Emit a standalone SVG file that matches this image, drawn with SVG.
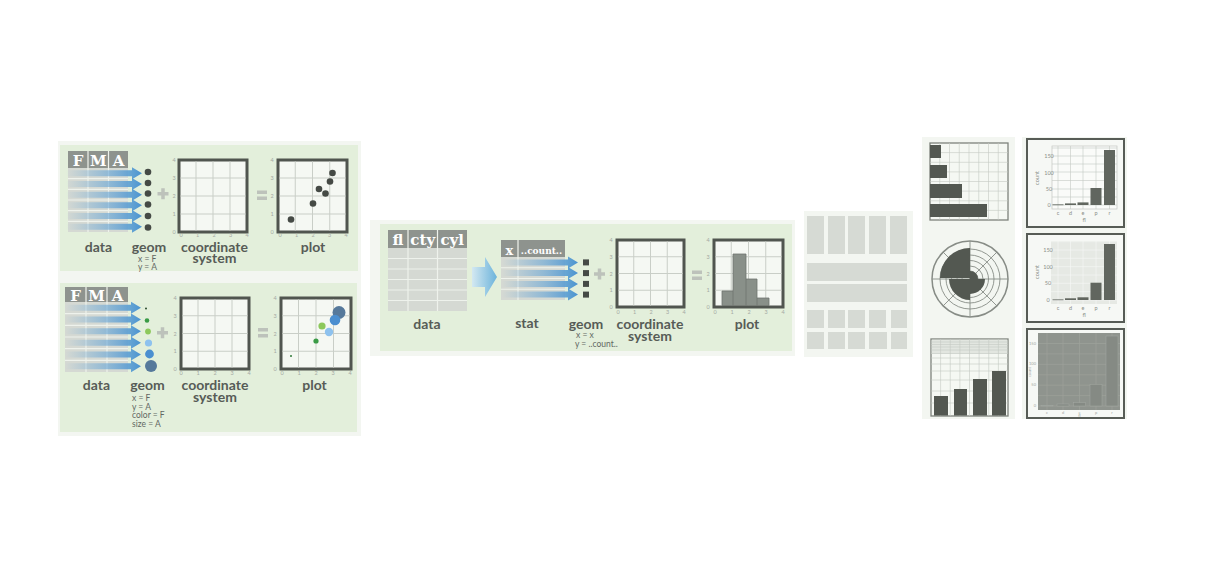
<svg xmlns="http://www.w3.org/2000/svg" width="1211" height="563" viewBox="0 0 1211 563">
<defs>
<style>
.pale{fill:#f3f6f1}
.pnl{fill:#e3efdb}
.hdr{fill:#8e938e}
.row{fill:#d5d9d3}
.sep{stroke:#eef2ec;stroke-width:1.2}
.box{fill:#f5f8f3;stroke:#50554f;stroke-width:3}
.grid{stroke:#c9cec7;stroke-width:1}
.tk{font-family:Lato,sans-serif;font-size:5.5px;fill:#a4a9a3;text-anchor:middle}
.lbl{font-family:Lato,sans-serif;font-weight:700;font-size:14px;fill:#575c57;text-anchor:middle}
.sm{font-family:Lato,sans-serif;font-size:8.5px;fill:#626762}
.hd{font-family:"DejaVu Serif",serif;font-weight:bold;font-size:15px;fill:#fff;text-anchor:middle}
.op{fill:#bdc2bb}
.dot{fill:#454a45}
.fac{fill:#d6dad4}
.mini{fill:#f5f8f3;stroke:#7d827c;stroke-width:1.3}
.mg{stroke:#c5c9c3;stroke-width:0.6}
.dk{fill:#535851}
.tt{font-family:Lato,sans-serif;font-size:5.5px;fill:#8a8f89;text-anchor:middle}
.th{fill:#f6f8f5;stroke:#575c56;stroke-width:2}
.bar{fill:#61665f}
</style>
<linearGradient id="ag" x1="0" y1="0" x2="1" y2="0">
<stop offset="0" stop-color="#5a9fd6" stop-opacity="0"/>
<stop offset="0.55" stop-color="#5a9fd6" stop-opacity="0.55"/>
<stop offset="1" stop-color="#4a93d0"/>
</linearGradient>
<linearGradient id="bg2" x1="0" y1="0" x2="1" y2="0">
<stop offset="0" stop-color="#d3e8f1"/>
<stop offset="1" stop-color="#6cb3db"/>
</linearGradient>
<path id="ra" d="M-76,-3 H-10 V-6 L0,0 L-10,6 V3 H-76 Z" fill="url(#ag)"/>
</defs>

<rect class="pale" x="58" y="141" width="303" height="295"/>
<rect class="pale" x="370" y="220" width="425" height="136"/>

<!-- Panel 1 -->
<g id="panel-scatter">
<rect class="pnl" x="60" y="145" width="298" height="126"/>
<g id="p1-data">
<rect class="hdr" x="68" y="151" width="60" height="17"/>
<rect class="row" x="68" y="168" width="60" height="64"/>
<path class="sep" d="M68,178.7H128M68,189.3H128M68,200H128M68,210.7H128M68,221.3H128M88,151V232M108.5,151V232"/>
<text class="hd" x="78" y="166">F</text>
<text class="hd" x="98.3" y="166">M</text>
<text class="hd" x="118.5" y="166">A</text>
</g>
<g id="p1-geom">
<circle class="dot" cx="148" cy="172" r="3.3"/>
<circle class="dot" cx="148" cy="183" r="3.3"/>
<circle class="dot" cx="148" cy="193.5" r="3.3"/>
<circle class="dot" cx="148" cy="204.5" r="3.3"/>
<circle class="dot" cx="148" cy="216" r="3.3"/>
<circle class="dot" cx="148" cy="227.5" r="3.3"/>
</g>
<rect class="op" x="157.5" y="192" width="11" height="3.5"/>
<rect class="op" x="161.25" y="188.25" width="3.5" height="11"/>
<g id="p1-coord">
<rect class="box" x="179" y="160" width="68" height="72"/>
<path class="grid" d="M196,161.5V230.5M213,161.5V230.5M230,161.5V230.5M180.5,178H245.5M180.5,196H245.5M180.5,214H245.5"/>
<text class="tk" x="174" y="162">4</text><text class="tk" x="174" y="180">3</text><text class="tk" x="174" y="198">2</text><text class="tk" x="174" y="216">1</text><text class="tk" x="174" y="234">0</text>
<text class="tk" x="181" y="236.5">0</text><text class="tk" x="197.5" y="236.5">1</text><text class="tk" x="214" y="236.5">2</text><text class="tk" x="230.5" y="236.5">3</text><text class="tk" x="247" y="236.5">4</text>
</g>
<rect class="op" x="257" y="190.5" width="10" height="3.5"/>
<rect class="op" x="257" y="196.5" width="10" height="3.5"/>
<g id="p1-plot">
<rect class="box" x="278" y="160" width="69" height="72"/>
<path class="grid" d="M295.25,161.5V230.5M312.5,161.5V230.5M329.75,161.5V230.5M279.5,178H345.5M279.5,196H345.5M279.5,214H345.5"/>
<text class="tk" x="272" y="162">4</text><text class="tk" x="272" y="180">3</text><text class="tk" x="272" y="198">2</text><text class="tk" x="272" y="216">1</text><text class="tk" x="272" y="234">0</text>
<text class="tk" x="280" y="236.5">0</text><text class="tk" x="296.5" y="236.5">1</text><text class="tk" x="313" y="236.5">2</text><text class="tk" x="329.5" y="236.5">3</text><text class="tk" x="346" y="236.5">4</text>
<circle class="dot" cx="291" cy="219.5" r="3.3"/>
<circle class="dot" cx="313" cy="203.5" r="3.3"/>
<circle class="dot" cx="319" cy="189" r="3.3"/>
<circle class="dot" cx="325.5" cy="193.5" r="3.3"/>
<circle class="dot" cx="330" cy="181.5" r="3.3"/>
<circle class="dot" cx="332.5" cy="173" r="3.3"/>
</g>
<text class="lbl" x="98.5" y="251.5">data</text>
<text class="lbl" x="149" y="251.5">geom</text>
<text class="lbl"><tspan x="214.5" y="251.5">coordinate</tspan><tspan x="214.5" y="263">system</tspan></text>
<text class="lbl" x="313" y="251.5">plot</text>
<text class="sm"><tspan x="138" y="261.5">x = F</tspan><tspan x="138" y="270">y = A</tspan></text>
</g>

<!-- Panel 2 -->
<g id="panel-aes">
<rect class="pnl" x="60" y="283" width="297" height="149"/>
<g id="p2-data">
<rect class="hdr" x="65" y="287" width="63" height="15"/>
<rect class="row" x="65" y="302" width="63" height="70"/>
<path class="sep" d="M65,313.7H128M65,325.3H128M65,337H128M65,348.7H128M65,360.3H128M86,287V372M107,287V372"/>
<text class="hd" x="75.5" y="300.5">F</text>
<text class="hd" x="96.5" y="300.5">M</text>
<text class="hd" x="117.5" y="300.5">A</text>
</g>
<g id="p2-geom">
<circle cx="146" cy="308.5" r="1" fill="#2b4a2e"/>
<circle cx="147" cy="320.5" r="2.3" fill="#3a9b46"/>
<circle cx="148" cy="331.5" r="2.9" fill="#8cc85b"/>
<circle cx="148.5" cy="343" r="3.6" fill="#8ec2ee"/>
<circle cx="149.5" cy="354" r="4.4" fill="#4b8fd0"/>
<circle cx="151" cy="366" r="6" fill="#56799b"/>
</g>
<rect class="op" x="157" y="331" width="11" height="3.5"/>
<rect class="op" x="160.75" y="327.25" width="3.5" height="11"/>
<g id="p2-coord">
<rect class="box" x="181" y="298" width="68" height="71"/>
<path class="grid" d="M198,299.5V367.5M215,299.5V367.5M232,299.5V367.5M182.5,315.75H247.5M182.5,333.5H247.5M182.5,351.25H247.5"/>
<text class="tk" x="175" y="300">4</text><text class="tk" x="175" y="317.75">3</text><text class="tk" x="175" y="335.5">2</text><text class="tk" x="175" y="353.25">1</text><text class="tk" x="175" y="371">0</text>
<text class="tk" x="181" y="374.5">0</text><text class="tk" x="198" y="374.5">1</text><text class="tk" x="215" y="374.5">2</text><text class="tk" x="232" y="374.5">3</text><text class="tk" x="249" y="374.5">4</text>
</g>
<rect class="op" x="258" y="328" width="10" height="3.5"/>
<rect class="op" x="258" y="334" width="10" height="3.5"/>
<g id="p2-plot">
<rect class="box" x="281" y="298" width="70" height="71"/>
<path class="grid" d="M298.5,299.5V367.5M316,299.5V367.5M333.5,299.5V367.5M282.5,315.75H349.5M282.5,333.5H349.5M282.5,351.25H349.5"/>
<text class="tk" x="275" y="300">4</text><text class="tk" x="275" y="317.75">3</text><text class="tk" x="275" y="335.5">2</text><text class="tk" x="275" y="353.25">1</text><text class="tk" x="275" y="371">0</text>
<text class="tk" x="282" y="374.5">0</text><text class="tk" x="299" y="374.5">1</text><text class="tk" x="316" y="374.5">2</text><text class="tk" x="333" y="374.5">3</text><text class="tk" x="350" y="374.5">4</text>
<circle cx="291" cy="356" r="1" fill="#2f7a38"/>
<circle cx="316" cy="341" r="2.6" fill="#3a9b46"/>
<circle cx="322" cy="326" r="3.6" fill="#8cc85b"/>
<circle cx="329" cy="332" r="4.2" fill="#8ec2ee"/>
<circle cx="339" cy="312.5" r="6.5" fill="#56799b"/>
<circle cx="335" cy="320" r="5.3" fill="#4b8fd0"/>
</g>
<text class="lbl" x="96.5" y="390">data</text>
<text class="lbl" x="147.5" y="390">geom</text>
<text class="lbl"><tspan x="215" y="390">coordinate</tspan><tspan x="215" y="402">system</tspan></text>
<text class="lbl" x="314.5" y="390">plot</text>
<text class="sm"><tspan x="132" y="400.5">x = F</tspan><tspan x="132" y="409.5">y = A</tspan><tspan x="132" y="418">color = F</tspan><tspan x="132" y="427">size = A</tspan></text>
</g>

<!-- Panel 3 -->
<g id="panel-stat">
<rect class="pnl" x="380" y="224" width="412" height="127"/>
<g id="p3-data">
<rect class="hdr" x="388" y="230" width="79" height="18"/>
<rect class="row" x="388" y="248" width="79" height="63"/>
<path class="sep" d="M388,258.5H467M388,269H467M388,279.5H467M388,290H467M388,300.5H467M408,230V311M437.5,230V311"/>
<text class="hd" x="398" y="245">fl</text>
<text class="hd" x="422.75" y="245">cty</text>
<text class="hd" x="452.25" y="245">cyl</text>
</g>
<path id="p3-bigarrow" d="M472,267H485V257L497,277L485,297V287H472Z" fill="url(#bg2)"/>
<g id="p3-stat">
<rect class="hdr" x="501" y="240" width="64" height="17"/>
<rect class="row" x="501" y="257" width="64" height="43"/>
<path class="sep" d="M501,267.75H565M501,278.5H565M501,289.25H565M518,240V300"/>
<text class="hd" x="509.5" y="254.5" style="font-size:13px">x</text>
<text class="hd" x="541.5" y="254" style="font-size:9px">..count..</text>
</g>
<g id="p3-geom">
<rect class="dot" x="583" y="259.4" width="6" height="6"/>
<rect class="dot" x="583" y="270.1" width="6" height="6"/>
<rect class="dot" x="583" y="280.9" width="6" height="6"/>
<rect class="dot" x="583" y="291.6" width="6" height="6"/>
</g>
<rect class="op" x="594" y="272.25" width="11" height="3.5"/>
<rect class="op" x="597.75" y="268.5" width="3.5" height="11"/>
<g id="p3-coord">
<rect class="box" x="617" y="240" width="67" height="67"/>
<path class="grid" d="M633.75,241.5V305.5M650.5,241.5V305.5M667.25,241.5V305.5M618.5,256.75H682.5M618.5,273.5H682.5M618.5,290.25H682.5"/>
<text class="tk" x="611" y="242">4</text><text class="tk" x="611" y="258.75">3</text><text class="tk" x="611" y="275.5">2</text><text class="tk" x="611" y="292.25">1</text><text class="tk" x="611" y="309">0</text>
<text class="tk" x="618" y="313.5">0</text><text class="tk" x="634.5" y="313.5">1</text><text class="tk" x="651" y="313.5">2</text><text class="tk" x="667.5" y="313.5">3</text><text class="tk" x="684" y="313.5">4</text>
</g>
<rect class="op" x="692" y="270.5" width="10" height="3.5"/>
<rect class="op" x="692" y="276.5" width="10" height="3.5"/>
<g id="p3-plot">
<rect class="box" x="714" y="240" width="69" height="67"/>
<path class="grid" d="M731.25,241.5V305.5M748.5,241.5V305.5M765.75,241.5V305.5M715.5,256.75H781.5M715.5,273.5H781.5M715.5,290.25H781.5"/>
<text class="tk" x="708" y="242">4</text><text class="tk" x="708" y="258.75">3</text><text class="tk" x="708" y="275.5">2</text><text class="tk" x="708" y="292.25">1</text><text class="tk" x="708" y="309">0</text>
<text class="tk" x="715" y="313.5">0</text><text class="tk" x="732" y="313.5">1</text><text class="tk" x="749" y="313.5">2</text><text class="tk" x="766" y="313.5">3</text><text class="tk" x="783" y="313.5">4</text>
<path d="M722,305.5V291H733V254H746V279H757V298H769V305.5Z" fill="#899089" stroke="#6e746e" stroke-width="0.8"/>
<path d="M733,305.5V291M746,305.5V279M757,305.5V298" stroke="#6e746e" stroke-width="0.8"/>
</g>
<text class="lbl" x="427" y="329">data</text>
<text class="lbl" x="527" y="327.5">stat</text>
<text class="lbl" x="586" y="328.5">geom</text>
<text class="lbl"><tspan x="650" y="328.5">coordinate</tspan><tspan x="650" y="340.5">system</tspan></text>
<text class="lbl" x="747" y="328.5">plot</text>
<text class="sm"><tspan x="576" y="338">x = x</tspan><tspan x="575" y="346.5">y = ..count..</tspan></text>
</g>

<!-- connectors: row arrows -->
<g id="connectors">
<use href="#ra" x="142" y="173.3"/>
<use href="#ra" x="142" y="184"/>
<use href="#ra" x="142" y="194.7"/>
<use href="#ra" x="142" y="205.3"/>
<use href="#ra" x="142" y="216"/>
<use href="#ra" x="142" y="226.7"/>
<use href="#ra" x="141" y="307.8"/>
<use href="#ra" x="141" y="319.5"/>
<use href="#ra" x="141" y="331.2"/>
<use href="#ra" x="141" y="342.8"/>
<use href="#ra" x="141" y="354.5"/>
<use href="#ra" x="141" y="366.2"/>
<use href="#ra" x="578" y="262.4"/>
<use href="#ra" x="578" y="273.1"/>
<use href="#ra" x="578" y="283.9"/>
<use href="#ra" x="578" y="294.6"/>
</g>

<!-- Panel 4: facets -->
<g id="panel-facets">
<rect class="pale" x="804" y="211" width="109" height="146"/>
<rect class="fac" x="807" y="216" width="17" height="38"/>
<rect class="fac" x="828" y="216" width="17" height="38"/>
<rect class="fac" x="848" y="216" width="17" height="38"/>
<rect class="fac" x="869" y="216" width="17" height="38"/>
<rect class="fac" x="890" y="216" width="17" height="38"/>
<rect class="fac" x="807" y="263" width="100" height="18"/>
<rect class="fac" x="807" y="284" width="100" height="18"/>
<rect class="fac" x="807" y="310" width="17" height="18"/>
<rect class="fac" x="828" y="310" width="17" height="18"/>
<rect class="fac" x="848" y="310" width="17" height="18"/>
<rect class="fac" x="869" y="310" width="17" height="18"/>
<rect class="fac" x="891" y="310" width="16" height="18"/>
<rect class="fac" x="807" y="332" width="17" height="17"/>
<rect class="fac" x="828" y="332" width="17" height="17"/>
<rect class="fac" x="848" y="332" width="17" height="17"/>
<rect class="fac" x="869" y="332" width="18" height="17"/>
<rect class="fac" x="891" y="332" width="16" height="17"/>
</g>

<!-- Panel 5: coordinate systems -->
<g id="panel-coords">
<rect class="pale" x="922" y="137" width="93" height="282"/>
<g id="coord-flip">
<rect class="mini" x="930" y="143" width="78" height="77"/>
<path class="mg" d="M939.75,143V220M949.5,143V220M959.25,143V220M969,143V220M978.75,143V220M988.5,143V220M998.25,143V220M930,152.6H1008M930,162.3H1008M930,171.9H1008M930,181.5H1008M930,191.1H1008M930,200.8H1008M930,210.4H1008"/>
<rect class="dk" x="930" y="145" width="11" height="13"/>
<rect class="dk" x="930" y="165" width="17" height="13"/>
<rect class="dk" x="930" y="184" width="32" height="14"/>
<rect class="dk" x="930" y="204" width="57" height="13"/>
</g>
<g id="coord-polar" fill="none" stroke="#878c86">
<circle cx="970" cy="279" r="38" stroke-width="1.5"/>
<circle cx="970" cy="279" r="30" stroke-width="0.9"/>
<circle cx="970" cy="279" r="24" stroke-width="0.9"/>
<circle cx="970" cy="279" r="18.5" stroke-width="0.9"/>
<circle cx="970" cy="279" r="13" stroke-width="0.9"/>
<circle cx="970" cy="279" r="8" stroke-width="0.9"/>
<path stroke-width="0.9" d="M932,279H1008M970,241V317M943.1,252.1L996.9,305.9M996.9,252.1L943.1,305.9"/>
<path class="dk" stroke="none" d="M970,278L940,278A30,30 0 0 1 970,248Z"/>
<path class="dk" stroke="none" d="M970,279L970,300A21,21 0 0 1 949,279Z"/>
<path class="dk" stroke="none" d="M970,279L985,279A15,15 0 0 1 970,294Z"/>
<path class="dk" stroke="none" d="M970,279L970,271A8,8 0 0 1 978,279Z"/>
</g>
<g id="coord-trans">
<rect class="mini" x="931" y="339" width="77" height="77"/>
<rect x="931.7" y="339.7" width="75.6" height="14" fill="#e2e6e0"/>
<path class="mg" d="M940.6,339V416M950.25,339V416M959.9,339V416M969.5,339V416M979.1,339V416M988.75,339V416M998.4,339V416M931,342H1008M931,344.5H1008M931,347H1008M931,350H1008M931,353.5H1008M931,358H1008M931,364H1008M931,371H1008M931,380H1008M931,391H1008M931,403H1008"/>
<rect class="dk" x="934" y="396" width="14" height="19.5"/>
<rect class="dk" x="954" y="389" width="13" height="26.5"/>
<rect class="dk" x="973" y="379" width="14" height="36.5"/>
<rect class="dk" x="992" y="371" width="14" height="44.5"/>
</g>
</g>

<!-- Panel 6: themes -->
<g id="panel-themes">
<rect class="pale" x="1022" y="137" width="105" height="282"/>
<g id="theme-bw">
<rect class="th" x="1027" y="139" width="97" height="88"/>
<rect x="1052" y="146" width="65" height="63" fill="#fafbf9" stroke="#c3c7c2" stroke-width="0.7"/>
<path class="mg" d="M1052,205H1117M1052,197H1117M1052,189H1117M1052,180.5H1117M1052,172H1117M1052,164H1117M1052,156H1117M1052,148H1117M1058,146V209M1070.5,146V209M1083,146V209M1096,146V209M1109.5,146V209"/>
<rect class="bar" x="1052.5" y="204.4" width="11" height="0.8"/>
<rect class="bar" x="1065" y="203.4" width="11" height="1.6"/>
<rect class="bar" x="1077.5" y="202.4" width="11" height="2.6"/>
<rect class="bar" x="1090.5" y="188" width="11" height="17"/>
<rect class="bar" x="1104" y="150" width="11" height="55"/>
<text class="tt" x="1049" y="158" text-anchor="end">150</text>
<text class="tt" x="1049" y="174.5" text-anchor="end">100</text>
<text class="tt" x="1049" y="191" text-anchor="end">50</text>
<text class="tt" x="1049" y="207" text-anchor="end">0</text>
<text class="tt" transform="translate(1039,178) rotate(-90)">count</text>
<text class="tt" x="1058" y="214.5">c</text><text class="tt" x="1070.5" y="214.5">d</text><text class="tt" x="1083" y="214.5">e</text><text class="tt" x="1096" y="214.5">p</text><text class="tt" x="1109.5" y="214.5">r</text>
<text class="tt" x="1084" y="221.5">fl</text>
</g>
<g id="theme-gray">
<rect class="th" x="1027" y="234" width="97" height="88"/>
<rect x="1051" y="241" width="66" height="63" fill="#e6e9e4"/>
<path d="M1051,300H1117M1051,291.7H1117M1051,283.3H1117M1051,275H1117M1051,266.7H1117M1051,258.3H1117M1051,250H1117M1051,241.7H1117M1058,241V304M1070.5,241V304M1083,241V304M1096,241V304M1109.5,241V304" stroke="#f7f8f6" stroke-width="0.6"/>
<rect class="bar" x="1052.5" y="299.4" width="11" height="0.8"/>
<rect class="bar" x="1065" y="298.3" width="11" height="1.7"/>
<rect class="bar" x="1077.5" y="297.3" width="11" height="2.7"/>
<rect class="bar" x="1090.5" y="282.7" width="11" height="17.3"/>
<rect class="bar" x="1104" y="244" width="11" height="56"/>
<text class="tt" x="1048" y="252" text-anchor="end">150</text>
<text class="tt" x="1048" y="268.7" text-anchor="end">100</text>
<text class="tt" x="1048" y="285.4" text-anchor="end">50</text>
<text class="tt" x="1048" y="302" text-anchor="end">0</text>
<text class="tt" transform="translate(1039,272) rotate(-90)">count</text>
<text class="tt" x="1058" y="309.5">c</text><text class="tt" x="1070.5" y="309.5">d</text><text class="tt" x="1083" y="309.5">e</text><text class="tt" x="1096" y="309.5">p</text><text class="tt" x="1109.5" y="309.5">r</text>
<text class="tt" x="1084" y="316.5">fl</text>
</g>
<g id="theme-dark">
<rect class="th" x="1027" y="329" width="97" height="89"/>
<rect x="1038" y="333" width="82" height="77" fill="#8f948e"/>
<path d="M1038,406H1120M1038,395.6H1120M1038,385.2H1120M1038,374.8H1120M1038,364.3H1120M1038,353.9H1120M1038,343.5H1120M1047,333V410M1063,333V410M1079.5,333V410M1096,333V410M1112,333V410" stroke="#9da29b" stroke-width="0.7"/>
<g fill="#858a84" stroke="#a3a8a2" stroke-width="0.5">
<rect x="1041" y="405.4" width="12" height="0.6"/>
<rect x="1057" y="404" width="12" height="2"/>
<rect x="1073.5" y="402.7" width="12" height="3.3"/>
<rect x="1090" y="384.3" width="12" height="21.7"/>
<rect x="1106" y="336" width="12" height="70"/>
</g>
<g class="tt" style="font-size:4px;fill:#a0a59f">
<text x="1036" y="344.5" text-anchor="end">150</text>
<text x="1036" y="365.3" text-anchor="end">100</text>
<text x="1036" y="386.2" text-anchor="end">50</text>
<text x="1036" y="407" text-anchor="end">0</text>
<text transform="translate(1031,372) rotate(-90)">count</text>
<text x="1047" y="413.5">c</text><text x="1063" y="413.5">d</text><text x="1079.5" y="413.5">e</text><text x="1096" y="413.5">p</text><text x="1112" y="413.5">r</text>
<text x="1079.5" y="417">fl</text>
</g>
</g>
</g>
</svg>
